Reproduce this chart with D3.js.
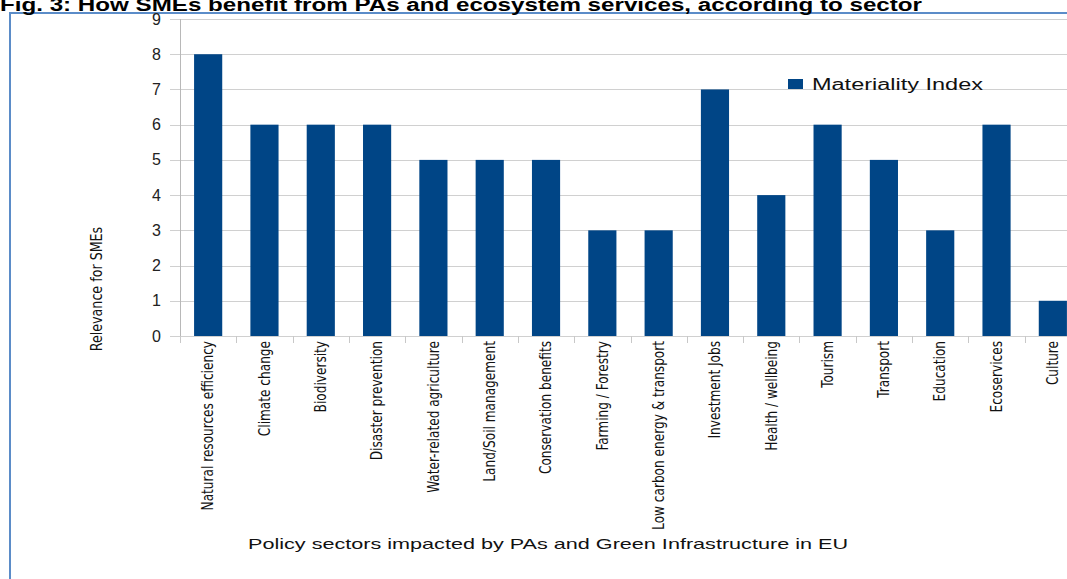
<!DOCTYPE html>
<html>
<head>
    <title>SMEs and PAs by sector</title>
</head>
<body>
<style type="text/css">
    body {
        margin: 0;
        background: #fff;
    }

    #renderer {
        width: 1067px;
        height: 579px;
        display: block;
        background: #FFF
    }
</style>
<script type="text/javascript" src="https://cdnjs.cloudflare.com/ajax/libs/d3/7.8.5/d3.min.js"></script>
<svg id='renderer'></svg>

<script type="text/javascript">
    // data
    var sectors = ['Natural resources efficiency', 'Climate change', 'Biodiversity', 'Disaster prevention',
        'Water-related agriculture', 'Land/Soil management', 'Conservation benefits', 'Farming / Forestry',
        'Low carbon energy & transport', 'Investment Jobs', 'Health / wellbeing', 'Tourism',
        'Transport', 'Education', 'Ecoservices', 'Culture'];
    var materialityIndex = [8, 6, 6, 6, 5, 5, 5, 3, 3, 7, 4, 6, 5, 3, 6, 1];
    var yTicks = [0, 1, 2, 3, 4, 5, 6, 7, 8, 9];

    var root = d3.select('#renderer');

    var totalWidth = 1067;
    var totalHeight = 579;

    var plotLeft = 180;
    var plotRight = 1081;   // chart continues past the right edge of the picture
    var plotTop = 19;
    var plotBottom = 336;

    var barColor = '#004586';
    var gridColor = '#d0d0d0';
    var narrowFont = '"Liberation Sans Narrow", "DejaVu Sans Condensed", sans-serif';
    var wideFont = '"Liberation Sans", Arial, sans-serif';

    var x = d3.scaleBand()
        .domain(sectors)
        .range([plotLeft, plotRight])
        .paddingInner(0.5)
        .paddingOuter(0.25);

    var y = d3.scaleLinear()
        .domain([0, 9])
        .range([plotBottom, plotTop]);

    // frame around the figure
    root.append('rect')
        .attr('x', 10)
        .attr('y', 13)
        .attr('width', 1100)
        .attr('height', 600)
        .attr('fill', 'none')
        .attr('stroke', '#5b8cc8')
        .attr('stroke-width', 2);

    // title (cut at the top like the original)
    root.append('text')
        .text('Fig. 3: How SMEs benefit from PAs and ecosystem services, according to sector')
        .attr('x', 0)
        .attr('y', 11)
        .attr('font-family', wideFont)
        .attr('font-weight', 'bold')
        .attr('font-size', 18)
        .attr('textLength', 922)
        .attr('lengthAdjust', 'spacingAndGlyphs')
        .attr('fill', '#000');

    // horizontal grid
    root.append('g')
        .selectAll('line')
        .data(yTicks)
        .join('line')
        .attr('x1', plotLeft - 10)
        .attr('x2', totalWidth)
        .attr('y1', function (d) { return Math.round(y(d)) + 0.5; })
        .attr('y2', function (d) { return Math.round(y(d)) + 0.5; })
        .attr('stroke', gridColor);

    // y axis labels
    root.append('g')
        .selectAll('text')
        .data(yTicks)
        .join('text')
        .text(function (d) { return d; })
        .attr('x', 161)
        .attr('y', function (d) { return y(d); })
        .attr('dy', '0.35em')
        .attr('text-anchor', 'end')
        .attr('font-family', wideFont)
        .attr('font-size', 16)
        .attr('fill', '#222');

    // vertical axis line
    root.append('line')
        .attr('x1', plotLeft + 0.5).attr('x2', plotLeft + 0.5)
        .attr('y1', plotTop).attr('y2', plotBottom)
        .attr('stroke', '#b8b8b8');

    // bars
    root.append('g')
        .selectAll('rect')
        .data(sectors)
        .join('rect')
        .attr('x', function (d) { return x(d); })
        .attr('y', function (d, i) { return y(materialityIndex[i]); })
        .attr('width', x.bandwidth())
        .attr('height', function (d, i) { return y(0) - y(materialityIndex[i]); })
        .attr('fill', barColor);

    // x axis ticks at the category boundaries
    var step = x.step();
    var boundaries = d3.range(sectors.length + 1).map(function (i) { return plotLeft + i * step; });
    root.append('g')
        .selectAll('line')
        .data(boundaries)
        .join('line')
        .attr('x1', function (d) { return Math.round(d) + 0.5; })
        .attr('x2', function (d) { return Math.round(d) + 0.5; })
        .attr('y1', plotBottom)
        .attr('y2', plotBottom + 7)
        .attr('stroke', '#c8c8c8');

    // category labels, rotated and squeezed like the narrow font of the original
    root.append('g')
        .selectAll('text')
        .data(sectors)
        .join('text')
        .text(function (d) { return d; })
        .attr('transform', function (d) {
            return 'translate(' + (x(d) + x.bandwidth() / 2) + ',' + (plotBottom + 5) + ') rotate(-90) scale(0.9,1)';
        })
        .attr('dy', '0.35em')
        .attr('text-anchor', 'end')
        .attr('font-family', narrowFont)
        .attr('font-size', 15)
        .attr('fill', '#111');

    // y axis title
    root.append('text')
        .text('Relevance for SMEs')
        .attr('transform', 'translate(97,289) rotate(-90) scale(0.94,1)')
        .attr('dy', '0.35em')
        .attr('text-anchor', 'middle')
        .attr('font-family', narrowFont)
        .attr('font-size', 15)
        .attr('fill', '#111');

    // x axis title
    root.append('text')
        .text('Policy sectors impacted by PAs and Green Infrastructure in EU')
        .attr('x', 548)
        .attr('y', 544)
        .attr('dy', '0.35em')
        .attr('text-anchor', 'middle')
        .attr('font-family', wideFont)
        .attr('font-size', 15)
        .attr('textLength', 600)
        .attr('lengthAdjust', 'spacingAndGlyphs')
        .attr('fill', '#111');

    // legend
    root.append('rect')
        .attr('x', 788)
        .attr('y', 79)
        .attr('width', 15)
        .attr('height', 10)
        .attr('fill', barColor);

    root.append('text')
        .text('Materiality Index')
        .attr('x', 812)
        .attr('y', 84)
        .attr('dy', '0.35em')
        .attr('font-family', wideFont)
        .attr('font-size', 16)
        .attr('textLength', 171)
        .attr('lengthAdjust', 'spacingAndGlyphs')
        .attr('fill', '#111');
</script>
</body>
</html>
